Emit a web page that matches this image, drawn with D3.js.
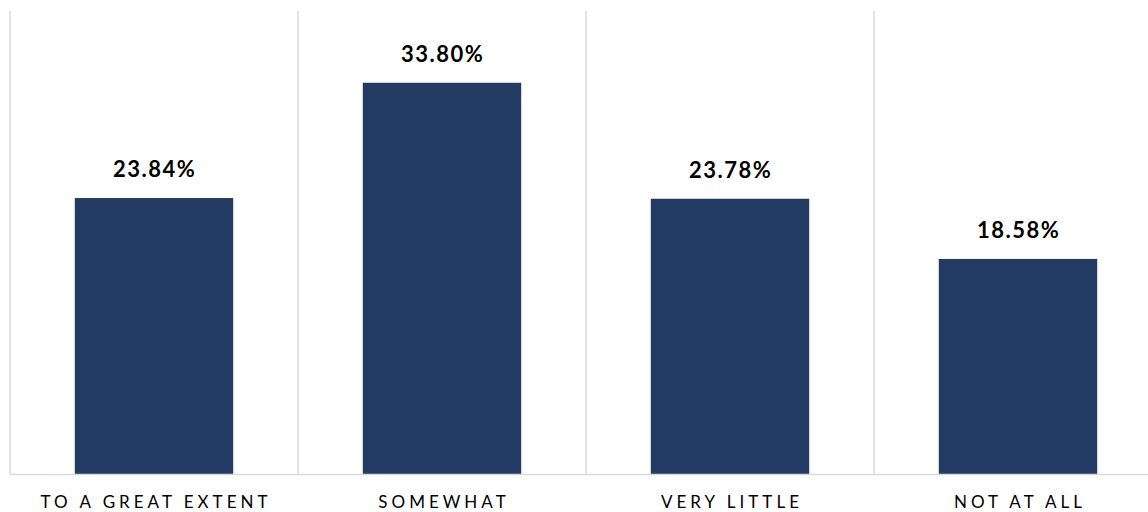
<!DOCTYPE html>
<html>
<head>
<meta charset="utf-8">
<script src="https://cdn.jsdelivr.net/npm/d3@7"></script>
<style>
  body { margin: 0; background: #fff; }
  #chart { width: 1148px; height: 512px; }
</style>
</head>
<body>
<div id="chart"></div>
<script>
const categories = ['TO A GREAT EXTENT', 'SOMEWHAT', 'VERY LITTLE', 'NOT AT ALL'];
const values = [23.84, 33.80, 23.78, 18.58];
const yMax = 40;

const width = 1148, height = 512;
const plot = { left: 10, top: 11, bandWidth: 288, bottom: 474 };

const svg = d3.select('#chart')
    .append('svg')
    .attr('width', width)
    .attr('height', height);

const x = d3.scaleBand()
    .domain(categories)
    .range([plot.left, plot.left + plot.bandWidth * categories.length])
    .paddingInner(0.45)
    .paddingOuter(0.225);

const band = d3.scaleBand()
    .domain(categories)
    .range([plot.left, plot.left + plot.bandWidth * categories.length]);

const y = d3.scaleLinear()
    .domain([0, yMax])
    .range([plot.bottom, plot.top]);

// vertical separators between categories
svg.selectAll('.sep')
    .data(categories)
    .enter()
    .append('line')
    .attr('class', 'sep')
    .attr('x1', d => band(d))
    .attr('x2', d => band(d))
    .attr('y1', y(yMax))
    .attr('y2', y(0))
    .attr('stroke', '#d9d9d9')
    .attr('stroke-width', 1.5);

svg.selectAll('.bar')
    .data(values)
    .enter()
    .append('rect')
    .attr('class', 'bar')
    .attr('x', (d, i) => x(categories[i]))
    .attr('y', d => y(d))
    .attr('width', x.bandwidth())
    .attr('height', d => y(0) - y(d))
    .attr('fill', '#233a62');

// baseline
svg.append('line')
    .attr('x1', plot.left)
    .attr('x2', width)
    .attr('y1', y(0) + 0.5)
    .attr('y2', y(0) + 0.5)
    .attr('stroke', '#d9d9d9')
    .attr('stroke-width', 1.5);

svg.selectAll('.val')
    .data(values)
    .enter()
    .append('text')
    .attr('class', 'val')
    .attr('x', (d, i) => x(categories[i]) + x.bandwidth() / 2 + 0.75)
    .attr('y', d => y(d) - 21)
    .attr('text-anchor', 'middle')
    .style('font-family', 'Lato, "Open Sans", sans-serif')
    .style('font-weight', 'bold')
    .style('font-size', '22px')
    .style('letter-spacing', '1.5px')
    .style('fill', '#000')
    .text(d => d.toFixed(2) + '%');

svg.selectAll('.cat')
    .data(categories)
    .enter()
    .append('text')
    .attr('class', 'cat')
    .attr('x', d => band(d) + band.bandwidth() / 2 + 2)
    .attr('y', 508)
    .attr('text-anchor', 'middle')
    .style('font-family', 'Lato, "Open Sans", sans-serif')
    .style('font-size', '17px')
    .style('letter-spacing', '4px')
    .style('fill', '#000')
    .text(d => d);
</script>
</body>
</html>
